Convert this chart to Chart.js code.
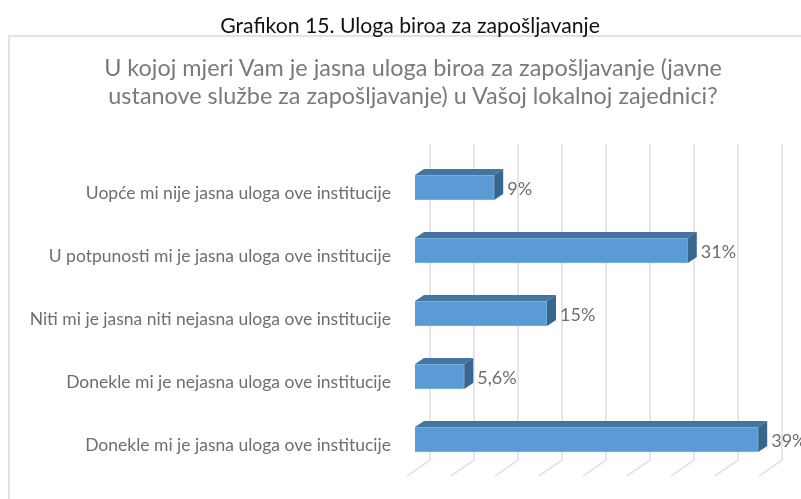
<!DOCTYPE html>
<html>
<head>
<meta charset="utf-8">
<script src="https://cdn.jsdelivr.net/npm/chart.js@4"></script>
<style>
  html, body { margin: 0; padding: 0; background: #fff; }
  #wrap { position: relative; width: 801px; height: 499px; overflow: hidden; font-family: Lato, sans-serif; }
  #frame { position: absolute; left: 8px; top: 35px; width: 800px; height: 480px; border: 2px solid #e2e2e2; }
  #chart { position: absolute; left: 0; top: 0; }
  #outerTitle { position: absolute; left: 110px; width: 600px; top: 12px; text-align: center; font-size: 21.2px; line-height: 26px; color: #111; white-space: nowrap; }
  #chartTitle { position: absolute; left: 63px; width: 700px; top: 53px; text-align: center; font-size: 23.4px; line-height: 28px; color: #7a7a7a; white-space: nowrap; }
</style>
</head>
<body>
<div id="wrap">
  <div id="frame"></div>
  <canvas id="chart" width="801" height="499"></canvas>
  <div id="outerTitle"></div>
  <div id="chartTitle"></div>
</div>
<script>
var fontName = "Lato, sans-serif";

var categories = [
  "Uopće mi nije jasna uloga ove institucije",
  "U potpunosti mi je jasna uloga ove institucije",
  "Niti mi je jasna niti nejasna uloga ove institucije",
  "Donekle mi je nejasna uloga ove institucije",
  "Donekle mi je jasna uloga ove institucije"
];
var shares = [9, 31, 15, 5.6, 39];
var shareLabels = ["9%", "31%", "15%", "5,6%", "39%"];
var outerTitle = "Grafikon 15. Uloga biroa za zapošljavanje";
var chartTitle = [
  "U kojoj mjeri Vam je jasna uloga biroa za zapošljavanje (javne",
  "ustanove službe za zapošljavanje) u Vašoj lokalnoj zajednici?"
];

document.getElementById("outerTitle").textContent = outerTitle;
document.getElementById("chartTitle").innerHTML = chartTitle.join("<br>");

// fake 3d look: back wall lines, floor lines, top and side faces of the bars
var depth3d = {
  id: "depth3d",
  beforeDatasetsDraw: function (chart) {
    var ctx = chart.ctx, x = chart.scales.x, area = chart.chartArea;
    ctx.save();
    ctx.strokeStyle = "#dedede";
    ctx.lineWidth = 1.5;
    x.ticks.forEach(function (t) {
      var px = x.getPixelForValue(t.value);
      ctx.beginPath();
      ctx.moveTo(px + 15, area.top - 12);
      ctx.lineTo(px + 15, area.bottom - 11);
      ctx.lineTo(px - 8, area.bottom + 5);
      ctx.stroke();
    });
    ctx.restore();
  },
  afterDatasetsDraw: function (chart) {
    var ctx = chart.ctx, dx = 9, dy = 6;
    ctx.save();
    chart.getDatasetMeta(0).data.forEach(function (bar, i) {
      var top = bar.y - 12.5, bottom = bar.y + 12.5;
      ctx.fillStyle = "#44749f";
      ctx.beginPath();
      ctx.moveTo(bar.base, top);
      ctx.lineTo(bar.base + dx, top - dy);
      ctx.lineTo(bar.x + dx, top - dy);
      ctx.lineTo(bar.x, top);
      ctx.closePath();
      ctx.fill();
      ctx.fillStyle = "#386690";
      ctx.beginPath();
      ctx.moveTo(bar.x, top);
      ctx.lineTo(bar.x + dx, top - dy);
      ctx.lineTo(bar.x + dx, bottom - dy);
      ctx.lineTo(bar.x, bottom);
      ctx.closePath();
      ctx.fill();
      ctx.fillStyle = "#6e6e6e";
      ctx.font = "18px " + fontName;
      ctx.textAlign = "left";
      ctx.textBaseline = "middle";
      ctx.fillText(shareLabels[i], bar.x + 13, bar.y + 2);
    });
    ctx.restore();
  }
};

new Chart(document.getElementById("chart"), {
  type: "bar",
  data: {
    labels: categories,
    datasets: [{
      data: shares,
      backgroundColor: "#5b9bd5",
      borderColor: "#7fb3e3",
      borderWidth: 1,
      barThickness: 25
    }]
  },
  plugins: [depth3d],
  options: {
    indexAxis: "y",
    responsive: false,
    animation: false,
    layout: { padding: { top: 156, right: 34, bottom: 28, left: 0 } },
    plugins: {
      legend: { display: false },
      tooltip: { enabled: false }
    },
    scales: {
      x: {
        display: false,
        min: 0,
        max: 40,
        ticks: { stepSize: 5 }
      },
      y: {
        afterFit: function (scale) { scale.width = 415; },
        grid: { display: false },
        border: { display: false },
        ticks: {
          color: "#6e6e6e",
          padding: 16,
          labelOffset: 6,
          font: { family: fontName, size: 17.5 }
        }
      }
    }
  }
});
</script>
</body>
</html>
